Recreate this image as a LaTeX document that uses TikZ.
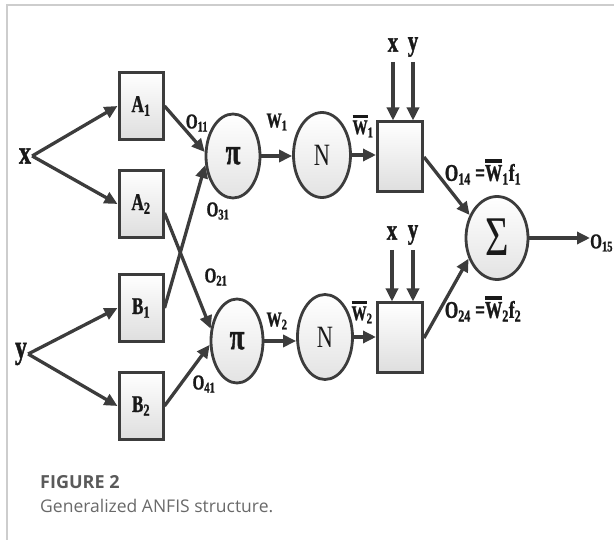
\documentclass[tikz,border=0pt]{standalone}
\usepackage{fontspec}
\usetikzlibrary{shapes.geometric,arrows.meta}
\newfontfamily\dfont[FakeStretch=0.72, BoldFeatures={FakeBold=1.2}]{Liberation Serif}
\newfontfamily\capfont{Open Sans}
\definecolor{lcol}{RGB}{60,60,60}
\definecolor{tcol}{RGB}{25,25,25}
\definecolor{frcol}{RGB}{205,205,205}
\definecolor{capA}{RGB}{90,90,90}
\definecolor{capB}{RGB}{105,105,105}
\newcommand\wbar{\vbox{\hrule height 3.2pt\kern 2.5pt\hbox{W}}}
\newcommand\ctr[2]{\raisebox{-#1em}[0pt][0pt]{#2}}
\tikzset{
  lab/.style={font=\dfont\bfseries\fontsize{21}{23}\selectfont, text=tcol, inner sep=0pt},
  biglab/.style={font=\dfont\bfseries\fontsize{24}{26}\selectfont, text=tcol, inner sep=0pt},
  inlab/.style={font=\dfont\bfseries\fontsize{33}{35}\selectfont, text=tcol, inner sep=1pt},
  toplab/.style={font=\dfont\bfseries\fontsize{29}{31}\selectfont, text=tcol, inner sep=0pt},
  mf/.style={draw=lcol, line width=3pt, rectangle, minimum width=44, minimum height=67,
    top color=white, bottom color=black!13, inner sep=0pt,
    font=\dfont\bfseries\fontsize{24}{26}\selectfont, text=tcol},
  rulebox/.style={draw=lcol, line width=3pt, rectangle, minimum width=45, minimum height=70,
    top color=white, bottom color=black!13, inner sep=0pt},
  op/.style={draw=lcol, line width=2.8pt, ellipse, minimum width=54, minimum height=84,
    top color=white, bottom color=black!11, inner sep=0pt, text=tcol},
  arr/.style={draw=lcol, line width=3.3pt, -{Triangle[length=13pt,width=12pt]}},
}
\begin{document}
\begin{tikzpicture}[x=1pt,y=-1pt]
\useasboundingbox (0,0) rectangle (614,540);
\draw[frcol, line width=1.2pt] (7,540) -- (7,5) -- (614,5);

% inputs
\node[inlab] (x) at (25,156) {x};
\node[inlab] (y) at (21,354) {y};

% layer 1
\node[mf] (A1) at (141,106) {A\textsubscript{1}};
\node[mf] (A2) at (141,204) {A\textsubscript{2}};
\node[mf] (B1) at (141,308) {B\textsubscript{1}};
\node[mf] (B2) at (141,406) {B\textsubscript{2}};

% layer 2
\node[op, font=\dfont\bfseries\fontsize{37}{39}\selectfont] (P1) at (233,156) {\ctr{0.22}{π}};
\node[op, minimum width=52, font=\dfont\bfseries\fontsize{37}{39}\selectfont] (P2) at (237,341) {\ctr{0.22}{π}};

% layer 3
\node[op, minimum width=57, minimum height=85, font=\dfont\fontsize{31}{33}\selectfont] (N1) at (322,155) {\ctr{0.33}{N}};
\node[op, minimum width=55, minimum height=85, font=\dfont\fontsize{31}{33}\selectfont] (N2) at (325,337) {\ctr{0.33}{N}};

% layer 4
\node[rulebox] (R1) at (400,157) {};
\node[rulebox] (R2) at (400,338) {};

% layer 5
\node[op, minimum width=62, minimum height=83, font=\dfont\fontsize{56}{58}\selectfont] (S) at (497,238) {\ctr{0.32}{Σ}};
\node[lab, anchor=west] (O15) at (590,243) {O\textsubscript{15}};

% x y inputs of rule boxes
\node[toplab] (xa) at (393,45) {x};
\node[toplab] (ya) at (413,47) {y};
\node[toplab] (xb) at (392,233) {x};
\node[toplab] (yb) at (413,235) {y};
\coordinate (xa0) at (393,62);
\coordinate (ya0) at (413,62);
\coordinate (xb0) at (392,250);
\coordinate (yb0) at (413,250);

% labels
\node[lab] (o11) at (197,123) {O\textsubscript{11}};
\node[lab] (w1) at (277,122) {W\textsubscript{1}};
\node[lab] (o31) at (218,211) {O\textsubscript{31}};
\node[lab] (o21) at (216,277) {O\textsubscript{21}};
\node[lab] (w2) at (277,321) {W\textsubscript{2}};
\node[lab] (o41) at (204,384) {O\textsubscript{41}};
\node[lab] (wb1) at (363,126) {\wbar\textsubscript{1}};
\node[lab] (wb2) at (362,312) {\wbar\textsubscript{2}};
\node[biglab] (o14) at (483,172) {O\textsubscript{14} =\wbar\textsubscript{1}f\textsubscript{1}};
\node[biglab] (o24) at (483,309) {O\textsubscript{24} =\wbar\textsubscript{2}f\textsubscript{2}};

% connectors
\draw[arr] (x.east) -- (A1.west);
\draw[arr] (x.east) -- (A2.west);
\draw[arr] (y.east) -- (B1.west);
\draw[arr] (y.east) -- (B2.west);
\draw[arr] (A1.east) -- (P1.172);
\draw[arr] (B1.east) -- (P1.198);
\draw[arr] ([yshift=-9pt]A2.east) -- (P2.155);
\draw[arr] (B2.east) -- (P2.188);
\draw[arr] (P1.east) -- (P1.east -| N1.west);
\draw[arr] (P2.east) -- (P2.east -| N2.west);
\draw[arr] (N1.east) -- (N1.east -| R1.west);
\draw[arr] (N2.east) -- (N2.east -| R2.west);
\draw[arr] (xa0) -- (xa0 |- R1.north);
\draw[arr] (ya0) -- (ya0 |- R1.north);
\draw[arr] (xb0) -- (xb0 |- R2.north);
\draw[arr] (yb0) -- (yb0 |- R2.north);
\draw[arr] (R1.east) -- (S.140);
\draw[arr] (R2.east) -- (S.216);
\draw[arr] (S.east) -- (S.east -| O15.west);

% caption
\node[anchor=base west, inner sep=0pt, font=\capfont\bfseries\fontsize{18}{20}\selectfont, text=capA] (cap1) at (40,488) {FIGURE 2};
\node[anchor=base west, inner sep=0pt, font=\capfont\fontsize{17.5}{20}\selectfont, text=capB] (cap2) at (40,512) {Generalized ANFIS structure.};
\end{tikzpicture}
\end{document}
